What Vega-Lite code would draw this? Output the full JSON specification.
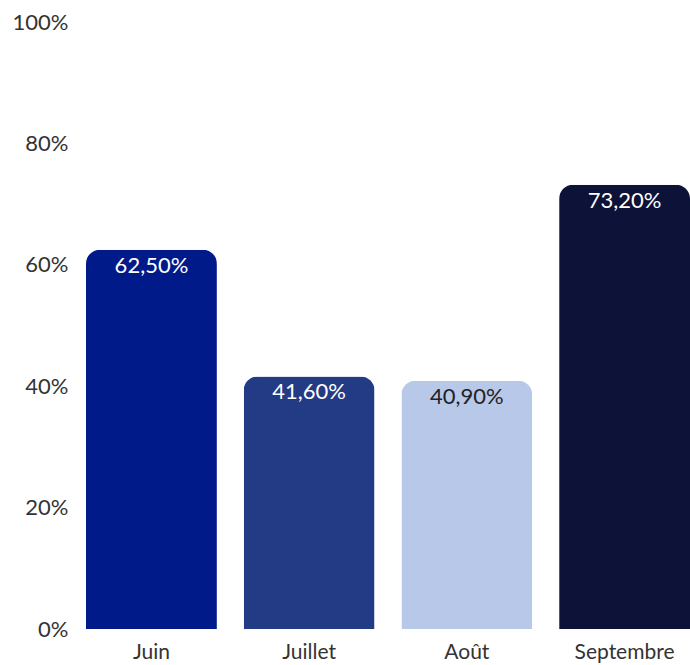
{
  "$schema": "https://vega.github.io/schema/vega-lite/v6.json",
  "autosize": "none",
  "width": 604,
  "height": 607,
  "padding": {"left": 86, "top": 22, "right": 0, "bottom": 36},
  "background": "white",
  "config": {
    "locale": {"number": {"decimal": ",", "thousands": " ", "grouping": [3], "currency": ["", " €"]}},
    "view": {"stroke": null},
    "font": "Lato"
  },
  "data": {"values": [
    {"mois": "Juin", "taux": 0.625},
    {"mois": "Juillet", "taux": 0.416},
    {"mois": "Août", "taux": 0.409},
    {"mois": "Septembre", "taux": 0.732}
  ]},
  "encoding": {
    "x": {"field": "mois", "type": "nominal", "sort": null,
      "scale": {"paddingInner": 0.17, "paddingOuter": 0},
      "axis": {"title": null, "labelAngle": 0, "domain": false, "ticks": false, "labelFontSize": 21, "labelColor": "#333333", "labelPadding": 12, "labelFont": "Lato"}},
    "y": {"field": "taux", "type": "quantitative",
      "scale": {"domain": [0, 1]},
      "axis": {"title": null, "format": ".0%", "grid": false, "domain": false, "ticks": false, "tickCount": 5, "labelFontSize": 22, "labelColor": "#333333", "labelPadding": 18, "labelFont": "Lato"}}
  },
  "layer": [
    {
      "mark": {"type": "bar", "cornerRadiusTopLeft": 14, "cornerRadiusTopRight": 14},
      "encoding": {
        "color": {"field": "mois", "type": "nominal", "legend": null,
          "scale": {"domain": ["Juin", "Juillet", "Août", "Septembre"], "range": ["#001a8a", "#233a84", "#b8c8e8", "#0c1238"]}}
      }
    },
    {
      "mark": {"type": "text", "baseline": "top", "dy": 6, "fontSize": 22, "font": "Lato"},
      "encoding": {
        "text": {"field": "taux", "type": "quantitative", "format": ".2%"},
        "color": {"condition": {"test": "datum.mois === 'Août'", "value": "#222222"}, "value": "#ffffff"}
      }
    }
  ]
}
